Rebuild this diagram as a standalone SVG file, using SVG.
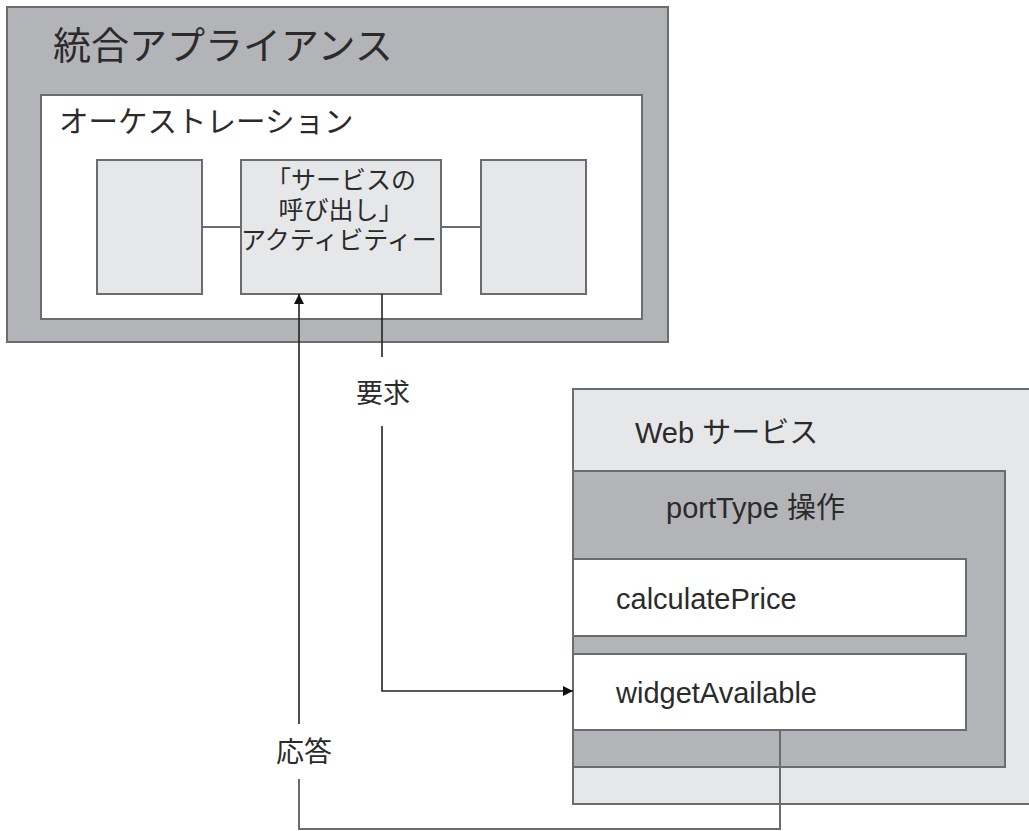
<svg xmlns="http://www.w3.org/2000/svg" width="1029" height="831" viewBox="0 0 1029 831">
  <defs>
    <style>
      .box { stroke: #6b6c6e; stroke-width: 2; }
      .dark { fill: #b3b4b7; }
      .white { fill: #ffffff; }
      .light { fill: #e6e7e8; }
      .t { fill: #2b2b2b; font-family: "Liberation Sans", "Noto Sans CJK JP", sans-serif; }
      .jp { fill: #2b2b2b; font-family: "Noto Sans CJK JP", sans-serif; }
      .conn { fill: none; stroke: #222; stroke-width: 1.6; }
      .gline { fill: none; stroke: #6b6c6e; stroke-width: 2; }
    </style>
    <marker id="arrow" viewBox="0 0 10 10" refX="10" refY="5" markerWidth="10" markerHeight="10" markerUnits="userSpaceOnUse" orient="auto">
      <path d="M0,0 L10,5 L0,10 Z" fill="#111"/>
    </marker>
  </defs>

  <g id="appliance">
    <rect class="box dark" x="7" y="7" width="661" height="335"/>
    <text class="jp" x="53" y="59" font-size="38">統合アプライアンス</text>
  </g>

  <g id="orchestration">
    <rect class="box white" x="41" y="95" width="601" height="224"/>
    <text class="jp" x="59" y="132" font-size="29.5">オーケストレーション</text>
  </g>

  <g id="activity-left">
    <rect class="box light" x="97" y="160" width="105" height="134"/>
  </g>

  <g id="invoke-activity">
    <rect class="box light" x="241" y="160" width="200" height="134"/>
    <text class="jp" x="341" y="189" font-size="25" text-anchor="middle">「サービスの</text>
    <text class="jp" x="341" y="219" font-size="25" text-anchor="middle">呼び出し」</text>
    <text class="jp" x="339" y="249" font-size="25" text-anchor="middle">アクティビティー</text>
  </g>

  <g id="activity-right">
    <rect class="box light" x="481" y="160" width="105" height="134"/>
  </g>

  <g id="web-service">
    <rect class="box light" x="573" y="389" width="470" height="415"/>
    <text class="t" x="635" y="443" font-size="29">Web サービス</text>
  </g>

  <g id="porttype">
    <rect class="box dark" x="573" y="471" width="432" height="296"/>
    <text class="t" x="666" y="518" font-size="29">portType 操作</text>
  </g>

  <g id="calculatePrice">
    <rect class="box white" x="573" y="559" width="393" height="77"/>
    <text class="t" x="616" y="609" font-size="29">calculatePrice</text>
  </g>

  <g id="widgetAvailable">
    <rect class="box white" x="573" y="654" width="393" height="76"/>
    <text class="t" x="616" y="703" font-size="29">widgetAvailable</text>
  </g>

  <g id="connectors">
    <line class="gline" x1="202" y1="227" x2="241" y2="227"/>
    <line class="gline" x1="441" y1="227" x2="481" y2="227"/>
    <!-- request -->
    <line class="conn" x1="382" y1="294" x2="382" y2="357"/>
    <polyline class="conn" points="382,426 382,691 573,691" marker-end="url(#arrow)"/>
    <text class="jp" x="383" y="403" font-size="27" text-anchor="middle">要求</text>
    <!-- response -->
    <polyline class="gline" points="780,730 780,829 299,829 299,779"/>
    <line class="conn" x1="299" y1="724" x2="299" y2="294" marker-end="url(#arrow)"/>
    <text class="jp" x="304" y="762" font-size="28" text-anchor="middle">応答</text>
  </g>
</svg>
